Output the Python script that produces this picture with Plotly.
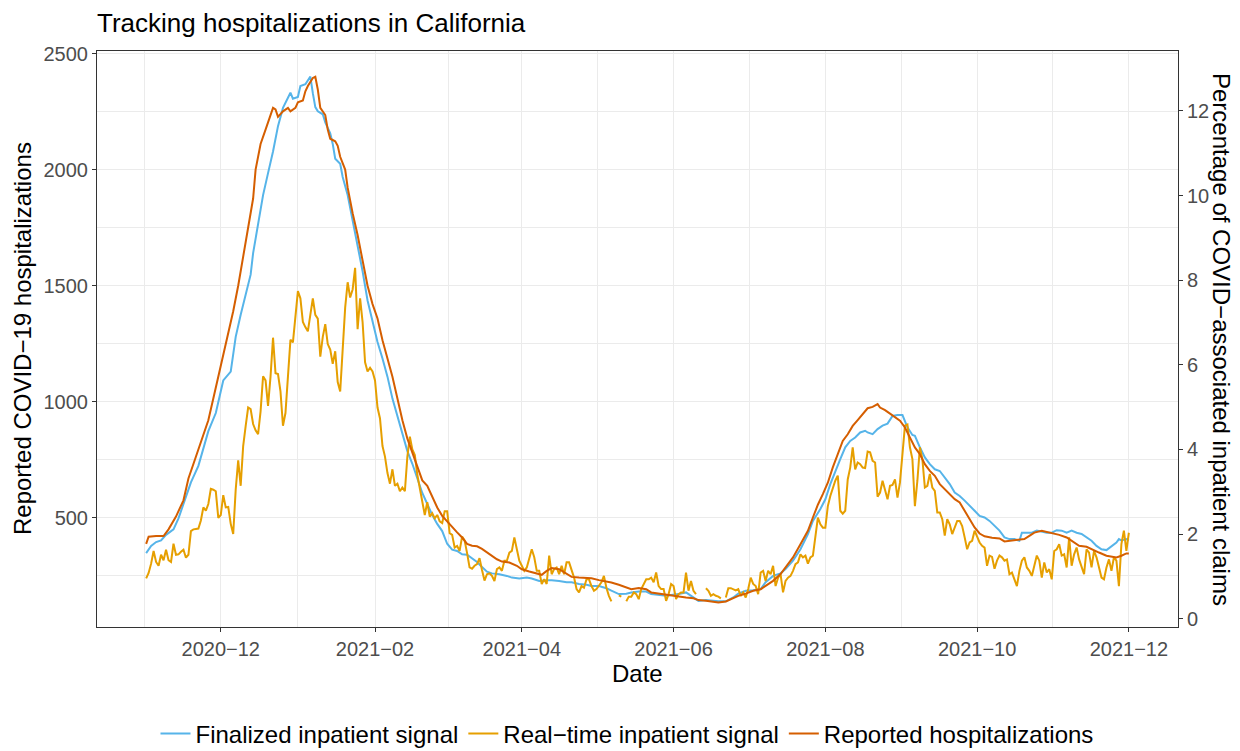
"""Tracking hospitalizations in California: reported counts vs. claims signals."""
import pandas as pd
import plotly.graph_objects as go

START = pd.Timestamp("2020-11-01")
# secondary axis, as in the ggplot original: hospitalizations = SHIFT + SCALE * pct
SCALE, SHIFT = 182.4, 64.0

FINAL_COLOR = "#56B4E9"
REALTIME_COLOR = "#E69F00"
REPORTED_COLOR = "#D55E00"
FONT = "Liberation Sans, Arial, sans-serif"
GRID = "#EBEBEB"
AXIS = "#333333"
TICK_TEXT = "#4D4D4D"

# --- data (day offsets from 2020-11-01) -------------------------------------
rep_day = [0, 1, 4, 7, 9, 12, 15, 17, 20, 23, 25, 27, 29, 31, 33, 35, 37, 39, 41, 43,
           44, 46, 48, 50, 51, 52, 53, 55, 57, 58, 60, 61, 63, 64, 65, 67, 68, 69, 70, 72,
           73, 74, 76, 77, 78, 80, 81, 83, 85, 87, 89, 91, 93, 95, 97, 99, 101, 103, 105, 107,
           109, 111, 113, 115, 117, 119, 121, 123, 125, 127, 129, 131, 133, 135, 138, 141, 143, 146, 149, 151,
           154, 157, 159, 161, 163, 166, 169, 171, 174, 177, 179, 182, 185, 187, 190, 193, 195, 198, 201, 203,
           206, 209, 211, 214, 217, 220, 222, 225, 228, 230, 233, 236, 238, 241, 244, 247, 249, 252, 255, 257,
           260, 263, 266, 268, 270, 272, 274, 276, 278, 280, 282, 284, 286, 288, 290, 292, 294, 295, 297, 299,
           301, 303, 305, 307, 309, 311, 313, 315, 317, 319, 321, 323, 325, 327, 329, 331, 333, 335, 337, 340,
           343, 345, 347, 350, 353, 355, 357, 360, 363, 365, 367, 370, 372, 375, 378, 380, 383, 386, 388, 390,
           392, 394, 395]
rep_hosp = [386, 417, 420, 420, 449, 504, 574, 668, 762, 856, 919, 1013, 1107, 1201, 1295, 1389, 1499, 1624, 1749, 1875,
            2000, 2110, 2172, 2235, 2266, 2259, 2227, 2251, 2266, 2251, 2266, 2290, 2298, 2337, 2360, 2395, 2400, 2345, 2266, 2235,
            2172, 2133, 2122, 2102, 2055, 2000, 1922, 1812, 1718, 1608, 1499, 1420, 1358, 1264, 1185, 1107, 1013, 919, 840, 778,
            715, 660, 637, 590, 543, 507, 483, 457, 436, 414, 386, 378, 376, 365, 342, 320, 310, 306, 292, 277,
            267, 259, 253, 270, 282, 277, 259, 244, 241, 241, 238, 230, 224, 220, 210, 198, 191, 196, 191, 177,
            172, 167, 162, 158, 155, 152, 144, 141, 138, 134, 138, 152, 162, 172, 184, 191, 205, 227, 256, 284,
            328, 385, 443, 500, 555, 601, 650, 716, 773, 830, 859, 895, 920, 945, 971, 977, 989, 974, 963, 948,
            934, 917, 888, 845, 802, 773, 730, 701, 680, 644, 622, 601, 579, 565, 529, 493, 457, 431, 419, 413,
            410, 397, 399, 402, 407, 421, 435, 443, 435, 431, 425, 414, 399, 378, 374, 363, 349, 335, 330, 328,
            335, 345, 345]

fin_day = [0, 2, 4, 6, 8, 11, 13, 16, 18, 21, 23, 25, 28, 31, 34, 36, 38, 40, 42, 43,
           45, 47, 49, 51, 53, 55, 58, 59, 61, 62, 64, 66, 67, 68, 69, 71, 72, 74, 75, 76,
           78, 79, 81, 83, 85, 87, 89, 91, 93, 95, 97, 99, 101, 103, 105, 107, 109, 111, 113, 115,
           117, 119, 121, 123, 125, 127, 129, 131, 133, 135, 137, 139, 142, 145, 147, 150, 153, 155, 158, 161,
           163, 166, 169, 171, 174, 177, 179, 182, 185, 187, 190, 193, 195, 198, 201, 203, 206, 209, 211, 214,
           217, 220, 222, 225, 228, 230, 233, 236, 238, 241, 244, 247, 249, 252, 255, 257, 260, 263, 266, 268,
           271, 273, 275, 277, 279, 281, 283, 285, 287, 289, 290, 292, 293, 294, 296, 298, 300, 302, 304, 305,
           306, 308, 309, 311, 313, 315, 317, 319, 321, 323, 325, 327, 329, 331, 333, 335, 337, 339, 341, 343,
           345, 347, 349, 351, 352, 354, 356, 358, 360, 362, 364, 366, 368, 370, 372, 374, 376, 378, 380, 382,
           384, 386, 388, 390, 391, 392, 394, 395]
fin_pct = [1.55, 1.72, 1.81, 1.85, 1.98, 2.11, 2.37, 2.88, 3.22, 3.61, 4.00, 4.43, 4.86, 5.63, 5.84, 6.66, 7.18, 7.69, 8.13, 8.64,
           9.33, 10.01, 10.53, 11.04, 11.64, 12.07, 12.43, 12.29, 12.33, 12.59, 12.63, 12.81, 12.42, 12.09, 11.99, 11.92, 11.73, 11.47, 11.22, 10.87,
           10.75, 10.44, 10.01, 9.41, 8.90, 8.21, 7.52, 7.01, 6.54, 6.15, 5.72, 5.20, 4.77, 4.34, 3.96, 3.66, 3.31, 2.97, 2.71, 2.45,
           2.24, 2.07, 1.77, 1.63, 1.60, 1.52, 1.51, 1.42, 1.34, 1.22, 1.11, 1.07, 1.05, 1.01, 0.97, 0.95, 0.97, 0.95, 0.89, 0.91,
           0.91, 0.89, 0.86, 0.86, 0.82, 0.80, 0.77, 0.77, 0.72, 0.66, 0.58, 0.59, 0.62, 0.64, 0.64, 0.58, 0.56, 0.54, 0.56, 0.58,
           0.62, 0.50, 0.42, 0.44, 0.42, 0.41, 0.41, 0.50, 0.59, 0.66, 0.67, 0.70, 0.86, 1.01, 1.07, 1.17, 1.37, 1.64, 2.00, 2.31,
           2.59, 2.82, 3.18, 3.49, 3.77, 4.05, 4.20, 4.28, 4.40, 4.44, 4.40, 4.36, 4.42, 4.48, 4.56, 4.61, 4.79, 4.81, 4.81, 4.68,
           4.52, 4.34, 4.32, 4.05, 3.81, 3.65, 3.53, 3.49, 3.33, 3.18, 2.98, 2.90, 2.79, 2.66, 2.55, 2.43, 2.39, 2.31, 2.19, 2.08,
           1.92, 1.88, 1.88, 1.84, 2.03, 2.03, 2.03, 2.08, 2.06, 2.03, 2.03, 2.09, 2.08, 2.03, 2.08, 2.03, 2.00, 1.92, 1.84, 1.72,
           1.64, 1.62, 1.70, 1.80, 1.88, 1.85, 1.88, 1.85]

# real-time signal, one value per day from 2020-11-01 (None = missing)
rt_pct = [0.95, 1.08, 1.30, 1.60, 1.34, 1.25, 1.51, 1.38, 1.63, 1.38,
          1.34, 1.77, 1.51, 1.52, 1.58, 1.63, 1.44, 1.51, 2.07, 2.11,
          2.12, 2.13, 2.32, 2.63, 2.55, 2.71, 3.07, 3.05, 3.01, 2.38,
          2.45, 2.92, 2.63, 2.64, 2.24, 2.00, 3.05, 3.74, 3.14, 4.08,
          4.55, 4.99, 4.95, 4.60, 4.45, 4.36, 4.90, 5.73, 5.63, 5.03,
          5.72, 6.64, 5.80, 5.78, 5.37, 4.56, 4.86, 5.67, 6.59, 6.53,
          7.18, 7.74, 7.57, 7.01, 6.89, 6.79, 7.18, 7.57, 7.18, 7.09,
          6.19, 6.66, 6.96, 6.49, 6.36, 6.02, 6.32, 5.59, 5.37, 6.32,
          7.35, 7.95, 7.59, 7.78, 8.29, 6.84, 7.57, 7.01, 6.06, 5.84,
          5.93, 5.84, 5.63, 4.99, 4.73, 4.08, 3.83, 3.44, 3.19, 3.53,
          3.14, 3.19, 3.01, 3.10, 3.01, 3.83, 4.30, 4.00, 3.87, 3.40,
          3.05, 2.80, 2.45, 2.75, 2.41, 2.49, 2.37, 2.45, 2.30, 2.26,
          2.54, 2.54, 2.02, 1.98, 1.68, 1.72, 1.60, 1.94, 1.85, 1.55,
          1.21, 1.18, 1.25, 1.29, 1.43, 1.15, 0.90, 1.05, 1.07, 1.01,
          0.89, 1.17, 1.21, 1.13, 1.37, 1.37, 1.56, 1.60, 1.92, 1.64,
          1.37, 1.25, 1.13, 1.21, 1.45, 1.64, 1.45, 1.13, 1.13, 0.82,
          0.93, 0.82, 1.49, 1.05, 1.17, 1.21, 1.05, 1.25, 1.05, 1.33,
          1.33, 1.13, 0.97, 0.70, 0.62, 0.77, 0.73, 0.93, 0.93, 0.77,
          0.66, 0.70, 0.77, 0.86, 1.01, 0.73, 0.54, 0.41, None, None,
          0.55, 0.52, None, 0.41, 0.52, 0.52, 0.62, 0.58, 0.46, 0.70,
          0.82, 0.93, 0.93, 0.97, 0.86, 1.09, 0.77, 0.70, 0.70, 0.42,
          0.58, 0.82, 0.77, 0.46, 0.58, 0.62, 0.62, 1.09, 0.66, 0.89,
          0.66, 0.58, None, None, None, 0.72, 0.66, 0.54, 0.58, 0.54,
          0.52, 0.48, None, 0.50, 0.72, 0.72, 0.70, 0.67, 0.70, 0.54,
          0.62, 0.50, 0.70, 0.97, 0.82, 0.77, 0.58, 1.09, 1.13, 0.89,
          1.13, 1.05, 1.25, 0.77, 0.97, 1.05, 0.62, 0.89, 0.97, 1.01,
          1.13, 1.29, 1.33, 1.52, 1.45, 1.49, 1.30, 1.45, 1.49, 1.95,
          2.39, 2.23, 2.15, 2.15, 2.66, 2.90, 3.10, 3.26, 3.38, 2.55,
          2.48, 2.55, 3.29, 3.57, 4.05, 3.53, 3.69, 3.65, 3.57, 3.56,
          3.95, 3.93, 3.73, 3.69, 2.88, 2.98, 3.26, 3.02, 2.82, 3.14,
          3.16, 3.29, 2.86, 3.22, 3.81, 4.56, 4.59, 4.05, 3.77, 2.66,
          3.26, 4.05, 3.77, 3.10, 3.14, 3.42, 3.10, 3.02, 2.51, 2.51,
          2.35, 1.96, 2.35, 2.23, 2.00, 2.15, 2.31, 2.31, 2.19, 1.92,
          1.64, 1.80, 1.84, 2.08, 1.92, 1.80, 1.72, 1.68, 1.25, 1.49,
          1.46, 1.18, 1.37, 1.49, 1.45, 1.37, 1.40, 1.05, 1.09, 0.93,
          0.77, 1.13, 1.37, 1.45, 1.21, 1.13, 1.01, 1.25, 1.49, 1.37,
          0.97, 1.33, 1.09, 1.17, 0.93, 1.60, 1.64, 1.76, 1.49, 1.52,
          1.21, 1.92, 1.25, 1.52, 1.68, 1.40, 1.21, 1.05, 1.64, 1.56,
          1.21, 1.60, 1.45, 1.21, 0.97, 0.93, 1.21, 1.40, 1.13, 1.45,
          1.37, 0.77, 1.76, 2.08, 1.60, 2.03]

month_ticks = ["2020-12-01", "2021-02-01", "2021-04-01", "2021-06-01",
               "2021-08-01", "2021-10-01", "2021-12-01"]
hosp_ticks = [500, 1000, 1500, 2000, 2500]
pct_ticks = [0, 2, 4, 6, 8, 10, 12]

X_RANGE = ["2020-10-12 06:00", "2021-12-20 18:00"]
Y_RANGE = [28, 2511]

# the page puts the figure 8px in from the window corner; layout is in page px
PAGE_PAD = 8
W, H = 1240 - PAGE_PAD, 751 - PAGE_PAD
PLOT_L, PLOT_R, PLOT_T, PLOT_B = 97 - PAGE_PAD, 1178 - PAGE_PAD, 51 - PAGE_PAD, 627 - PAGE_PAD


def _dates(days):
    return START + pd.to_timedelta(days, unit="D")


def _to_hosp(vals):
    return [None if v is None else SHIFT + SCALE * v for v in vals]


# ggplot puts minor breaks halfway between the major ones
breaks = pd.to_datetime(["2020-10-01"] + month_ticks + ["2022-02-01"])
minor_x = [(a + (b - a) / 2).isoformat() for a, b in zip(breaks[:-1], breaks[1:])]
minor_y = [(a + b) / 2 for a, b in zip([0] + hosp_ticks[:-1], hosp_ticks)]
tick_text = [pd.Timestamp(d).strftime("%Y\u2212%m") for d in month_ticks]

fig = go.Figure()
fig.add_trace(go.Scatter(
    x=_dates(fin_day), y=_to_hosp(fin_pct), mode="lines",
    name="Finalized inpatient signal",
    line=dict(color=FINAL_COLOR, width=2),
))
fig.add_trace(go.Scatter(
    x=pd.date_range(START, periods=len(rt_pct), freq="D"), y=_to_hosp(rt_pct),
    mode="lines", name="Real\u2212time inpatient signal",
    line=dict(color=REALTIME_COLOR, width=2), connectgaps=False,
))
fig.add_trace(go.Scatter(
    x=_dates(rep_day), y=rep_hosp, mode="lines",
    name="Reported hospitalizations",
    line=dict(color=REPORTED_COLOR, width=2),
))
# carrier for the secondary (percentage) axis
fig.add_trace(go.Scatter(
    x=_dates(fin_day), y=fin_pct, yaxis="y2", mode="lines",
    line=dict(width=0), opacity=0, showlegend=False, hoverinfo="skip",
))

axis_common = dict(
    ticks="outside", ticklen=4, tickwidth=1, tickcolor=AXIS,
    tickfont=dict(family=FONT, size=20, color=TICK_TEXT),
    showline=True, linecolor=AXIS, linewidth=1, zeroline=False,
    automargin=False,
)

fig.update_layout(
    width=W, height=H,
    paper_bgcolor="white", plot_bgcolor="white",
    margin=dict(l=PLOT_L, r=W - PLOT_R, t=PLOT_T, b=H - PLOT_B, autoexpand=False),
    font=dict(family=FONT, color="black"),
    title=dict(text="Tracking hospitalizations in California",
               x=PLOT_L / W, xanchor="left", xref="container",
               y=1 - (23 - PAGE_PAD) / H, yanchor="middle", yref="container",
               font=dict(size=26, color="black")),
    xaxis=dict(
        type="date", range=X_RANGE, tickmode="array",
        tickvals=month_ticks, ticktext=tick_text,
        showgrid=True, gridcolor=GRID, gridwidth=1.4, mirror=True,
        minor=dict(tickmode="array", tickvals=minor_x, showgrid=True,
                   gridcolor=GRID, gridwidth=0.7, ticks=""),
        **axis_common,
    ),
    yaxis=dict(
        range=Y_RANGE, tickmode="array", tickvals=hosp_ticks,
        showgrid=True, gridcolor=GRID, gridwidth=1.4, mirror=True,
        minor=dict(tickmode="array", tickvals=minor_y, showgrid=True,
                   gridcolor=GRID, gridwidth=0.7, ticks=""),
        **axis_common,
    ),
    yaxis2=dict(
        overlaying="y", side="right",
        range=[(Y_RANGE[0] - SHIFT) / SCALE, (Y_RANGE[1] - SHIFT) / SCALE],
        tickmode="array", tickvals=pct_ticks, showgrid=False,
        **axis_common,
    ),
    legend=dict(
        orientation="h", x=0.5 + 3 / W, xanchor="center", xref="container",
        y=1 - (734 - PAGE_PAD) / H, yanchor="middle", yref="container",
        font=dict(family=FONT, size=24, color="black"),
        itemwidth=30, bgcolor="rgba(0,0,0,0)",
    ),
    showlegend=True,
)

plot_w, plot_h = PLOT_R - PLOT_L, PLOT_B - PLOT_T
title_font = dict(family=FONT, size=24, color="black")
fig.add_annotation(text="Date", xref="paper", yref="paper",
                   x=0.5, y=-(673 - 627) / plot_h, xanchor="center", yanchor="middle",
                   showarrow=False, font=title_font)
fig.add_annotation(text="Reported COVID\u221219 hospitalizations",
                   xref="paper", yref="paper",
                   x=(22 - 97) / plot_w, y=0.5, textangle=-90,
                   xanchor="center", yanchor="middle",
                   showarrow=False, font=title_font)
fig.add_annotation(text="Percentage of COVID\u2212associated inpatient claims",
                   xref="paper", yref="paper",
                   x=(1222 - 97) / plot_w, y=0.5, textangle=90,
                   xanchor="center", yanchor="middle",
                   showarrow=False, font=title_font)

fig.write_html("out.html")
